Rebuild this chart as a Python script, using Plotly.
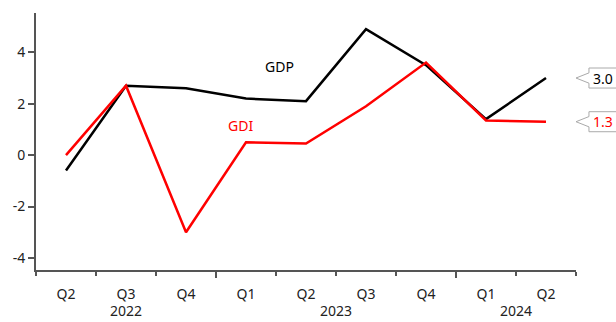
import plotly.graph_objects as go

years = ["2022", "2022", "2022", "2023", "2023", "2023", "2023", "2024", "2024"]
quarters = ["Q2", "Q3", "Q4", "Q1", "Q2", "Q3", "Q4", "Q1", "Q2"]
gdp = [-0.6, 2.7, 2.6, 2.2, 2.1, 4.9, 3.5, 1.4, 3.0]
gdi = [0.0, 2.7, -3.0, 0.5, 0.45, 1.9, 3.6, 1.35, 1.3]
y_ticks = [-4, -2, 0, 2, 4]

FONT = "Noto Sans"
n = len(quarters)
xs = list(range(n))

fig = go.Figure()
fig.add_trace(go.Scatter(x=xs, y=gdp, mode="lines",
                         line=dict(color="black", width=2.5), name="GDP"))
fig.add_trace(go.Scatter(x=xs, y=gdi, mode="lines",
                         line=dict(color="red", width=2.5), name="GDI"))

fig.update_layout(
    width=616, height=322, showlegend=False,
    margin=dict(l=36, r=40, t=13, b=52),
    plot_bgcolor="white", paper_bgcolor="white",
    font=dict(family=FONT, size=14, color="#222"),
)
fig.update_xaxes(range=[-0.5, n - 0.5], tickvals=xs, ticktext=quarters,
                 showline=True, linecolor="#555", linewidth=2,
                 ticks="outside", ticklen=0, tickcolor="#555", ticklabelstandoff=10,
                 minor=dict(tickmode="array", tickvals=[i - 0.5 for i in range(n + 1)],
                            ticks="outside", ticklen=4, tickcolor="#555", tickwidth=1.5,
                            showgrid=False),
                 showgrid=False, zeroline=False)
fig.update_yaxes(range=[-4.47, 5.53], tickvals=y_ticks,
                 ticktext=[str(v) for v in y_ticks], showline=True,
                 linecolor="#555", linewidth=2, ticks="outside", ticklen=6,
                 tickcolor="#555", tickwidth=1.5, showgrid=False, zeroline=False)

# year group labels and boundary ticks
groups = []
for i, y in enumerate(years):
    if not groups or groups[-1][0] != y:
        groups.append([y, i, i])
    else:
        groups[-1][2] = i
for y, a, b in groups:
    fig.add_annotation(x=(a + b) / 2, y=-0.2, xref="x", yref="paper", text=y,
                       showarrow=False, yanchor="bottom", borderpad=0,
                       font=dict(size=14, color="#222"))
for y, a, b in groups[1:]:
    fig.add_shape(type="line", xref="x", yref="paper", x0=a - 0.5, x1=a - 0.5,
                  y0=0, y1=-0.031, line=dict(color="#555", width=2))

fig.add_annotation(x=3.55, y=3.45, xref="x", yref="y", text="GDP",
                   showarrow=False, font=dict(color="black", size=14))
fig.add_annotation(x=2.9, y=1.15, xref="x", yref="y", text="GDI",
                   showarrow=False, font=dict(color="red", size=14))

# callout labels for last values
for val, col in [(gdp[-1], "black"), (gdi[-1], "red")]:
    x_tip, x_box, x_right = 1.0, 1.024, 1.09
    h, p = 0.39, 0.2
    path = (f"M {x_tip} {val} L {x_box} {val + p} L {x_box} {val + h} "
            f"L {x_right} {val + h} L {x_right} {val - h} L {x_box} {val - h} "
            f"L {x_box} {val - p} Z")
    fig.add_shape(type="path", path=path, xref="paper", yref="y",
                  line=dict(color="#aaa", width=1), fillcolor="white")
    fig.add_annotation(x=x_box + 0.003, y=val, xref="paper", yref="y", xanchor="left",
                       text=f"{val:.1f}", showarrow=False,
                       font=dict(color=col, size=14))

fig.write_html("out.html")
